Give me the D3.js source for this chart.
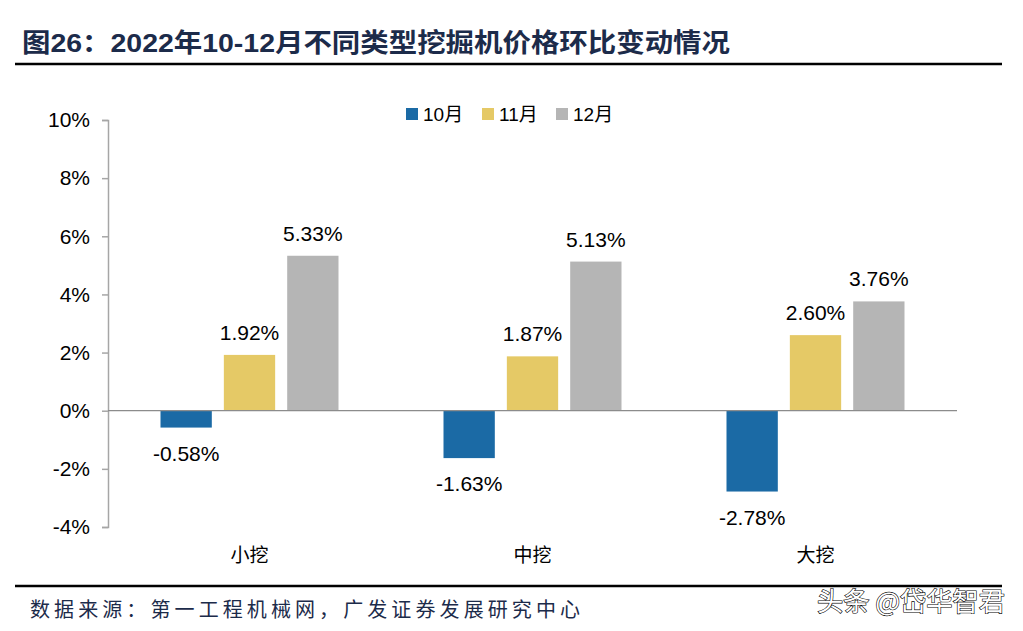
<!DOCTYPE html>
<html><head><meta charset="utf-8">
<script src="https://cdn.jsdelivr.net/npm/d3@7"></script>
<style>
html,body{margin:0;padding:0;background:#fff;}
text{font-family:"Liberation Sans","Noto Sans CJK SC",sans-serif;}
</style></head>
<body>
<svg id="c" width="1023" height="631"></svg>
<script>
const categories = ["小挖", "中挖", "大挖"];
const seriesNames = ["10月", "11月", "12月"];
const values10 = [-0.58, -1.63, -2.78];
const values11 = [1.92, 1.87, 2.60];
const values12 = [5.33, 5.13, 3.76];
const yTicks = [-4, -2, 0, 2, 4, 6, 8, 10];
const colors = ["#1B6AA5", "#E5C966", "#B5B5B5"];
const titleText = "图26：2022年10-12月不同类型挖掘机价格环比变动情况";
const sourceText = "数据来源：第一工程机械网，广发证券发展研究中心";
const watermark = "头条 @岱华智君";

const seriesValues = [values10, values11, values12];
const svg = d3.select("#c");

// Title
svg.append("text").attr("x", 22).attr("y", 52)
  .attr("font-size", 26).attr("font-weight", "bold").attr("fill", "#1C2B4A")
  .attr("textLength", 708).attr("lengthAdjust", "spacingAndGlyphs")
  .style("font-family", "'Liberation Sans','Noto Sans CJK SC',sans-serif")
  .text(titleText);
svg.append("line").attr("x1", 15).attr("x2", 1002).attr("y1", 64).attr("y2", 64)
  .attr("stroke", "#000").attr("stroke-width", 2.5);

// Scales
const y = d3.scaleLinear().domain([-4, 10]).range([527, 120]);
const x0 = d3.scaleBand().domain(categories).range([108, 957]).padding(0);
const x1 = d3.scaleBand().domain(seriesNames).range([-89, 89]).paddingInner(0.19).paddingOuter(0);

// Y axis
const yAxis = d3.axisLeft(y).tickValues(yTicks).tickSize(6).tickPadding(12).tickFormat(d => d + "%");
const ga = svg.append("g").attr("transform", "translate(108,0)").call(yAxis);
ga.select(".domain").attr("stroke", "#A6A6A6").attr("stroke-width", 1.5);
ga.selectAll(".tick line").attr("stroke", "#A6A6A6").attr("stroke-width", 1.5);
ga.selectAll(".tick text").attr("font-size", 21).attr("fill", "#000")
  .style("font-family", "'Liberation Sans',sans-serif");

// Bars
const groups = svg.append("g").selectAll("g").data(categories).join("g")
  .attr("transform", d => `translate(${x0(d) + x0.bandwidth() / 2},0)`);
seriesNames.forEach((s, si) => {
  groups.append("rect")
    .attr("x", x1(s))
    .attr("width", x1.bandwidth())
    .attr("y", (d, i) => y(Math.max(0, seriesValues[si][i])))
    .attr("height", (d, i) => Math.abs(y(seriesValues[si][i]) - y(0)))
    .attr("fill", colors[si]);
  groups.append("text")
    .attr("x", x1(s) + x1.bandwidth() / 2)
    .attr("y", (d, i) => {
      const v = seriesValues[si][i];
      return v >= 0 ? y(v) - 15 : y(v) + 33;
    })
    .attr("text-anchor", "middle").attr("font-size", 21).attr("fill", "#000")
    .text((d, i) => seriesValues[si][i].toFixed(2) + "%");
});

// Zero line
svg.append("line").attr("x1", 108).attr("x2", 957).attr("y1", y(0)).attr("y2", y(0))
  .attr("stroke", "#8C8C8C").attr("stroke-width", 1.3);

// Category labels
svg.append("g").selectAll("text").data(categories).join("text")
  .attr("x", d => x0(d) + x0.bandwidth() / 2).attr("y", 562)
  .attr("text-anchor", "middle").attr("font-size", 19).attr("fill", "#000")
  .style("font-family", "'Noto Sans CJK SC',sans-serif")
  .text(d => d);

// Legend
const legX = [406, 482, 556];
const lg = svg.append("g").selectAll("g").data(seriesNames).join("g")
  .attr("transform", (d, i) => `translate(${legX[i]},108)`);
lg.append("rect").attr("width", 12).attr("height", 12).attr("fill", (d, i) => colors[i]);
lg.append("text").attr("x", 17).attr("y", 13).attr("font-size", 19).attr("fill", "#000").text(d => d);

// Footer
svg.append("line").attr("x1", 15).attr("x2", 1002).attr("y1", 586).attr("y2", 586)
  .attr("stroke", "#000").attr("stroke-width", 2.5);
svg.append("text").attr("x", 30).attr("y", 617).attr("font-size", 20).attr("fill", "#1C2B4A")
  .attr("textLength", 550).attr("lengthAdjust", "spacing")
  .style("font-family", "'Noto Sans CJK SC',sans-serif")
  .text(sourceText);
svg.append("text").attr("x", 817).attr("y", 611)
  .attr("font-size", 26).attr("fill", "#fff").attr("stroke", "#000").attr("stroke-width", 1.2)
  .attr("paint-order", "stroke")
  .attr("textLength", 188).attr("lengthAdjust", "spacingAndGlyphs")
  .style("font-family", "'Noto Sans CJK SC',sans-serif")
  .text(watermark);
</script>
</body></html>
